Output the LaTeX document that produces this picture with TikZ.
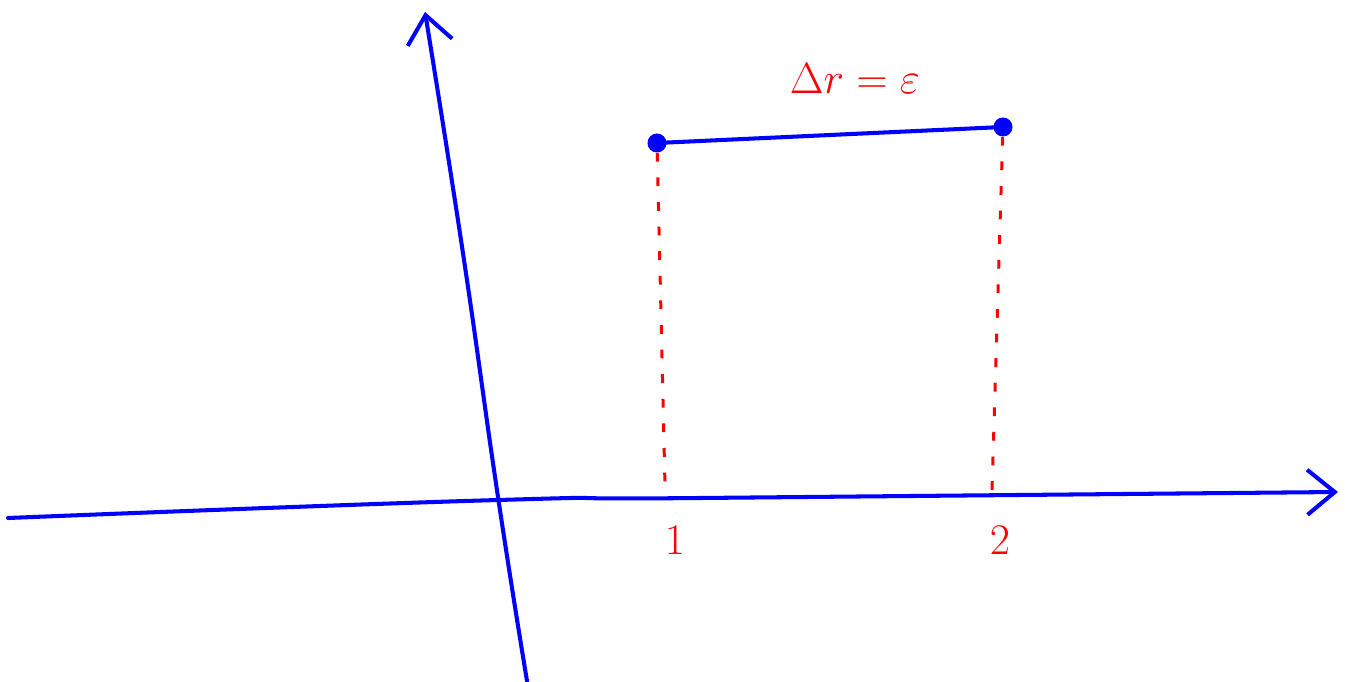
\documentclass[tikz,border=0pt]{standalone}
\usepackage{amsmath,amssymb}
\usepackage{tikz}
\usetikzlibrary{positioning, arrows.meta, calc}
\usepackage{xcolor}

\tikzset{
    axis/.style={line width=2.3pt, blue, line cap=round, -{Straight Barb[length=5.5mm, width=9mm, line width=2.3pt]}},
    dot/.style={circle, fill=blue, inner sep=0pt, minimum size=3.8mm},
    guide/.style={red, line width=1.7pt, dash pattern=on 5pt off 9pt},
    lbl/.style={red, font=\fontsize{30}{36}\selectfont}
}

\begin{document}
\begin{tikzpicture}
        \useasboundingbox (0, 0) rectangle (26.9, 13.62);

        % Оси
        \draw[axis] plot[smooth, tension=0.8] coordinates {(0.16, 3.26) (9.96, 3.62) (14, 3.66) (26.76, 3.78)};
        \draw[axis] plot[smooth, tension=0.8] coordinates {(10.54, 0) (9.96, 3.68) (9.25, 8.62) (8.5, 13.38)};

        % Концы отрезка
        \node[dot] (p1) at (13.14, 10.76) {};
        \node[dot] (p2) at (20.06, 11.08) {};
        \draw[blue, line width=2.3pt] (p1.center) -- (p2.center);

        % Проекции на ось
        \coordinate (q1) at (13.3, 3.9);
        \coordinate (q2) at (19.84, 3.82);
        \draw[guide] (p1) -- (q1);
        \draw[guide] (p2) -- (q2);

        % Подписи
        \node[lbl] (one) at (13.5, 2.82) {$1$};
        \node[lbl] (two) at (20.0, 2.82) {$2$};
        \node[lbl] (len) at (17.1, 12.05) {$\Delta r = \varepsilon$};
    \end{tikzpicture}
\end{document}
